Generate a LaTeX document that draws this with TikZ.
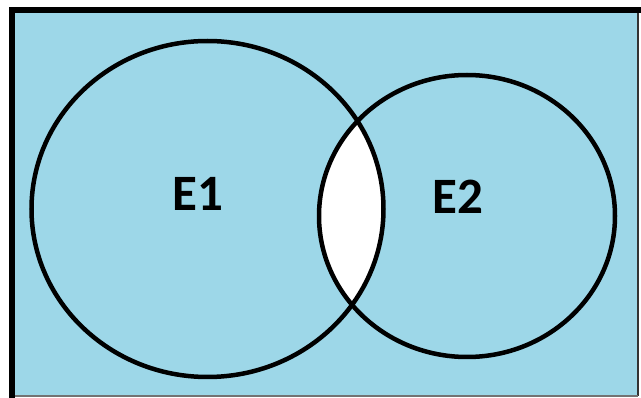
\documentclass[tikz,border=0pt]{standalone}
\usepackage{fontspec}
\setmainfont{Carlito}
\definecolor{venn}{RGB}{157,215,232}
\begin{document}
\begin{tikzpicture}[x=1pt,y=-1pt,
  setline/.style={line width=4.5pt, draw=black},
  lbl/.style={font=\fontsize{51}{51}\selectfont\bfseries, inner sep=0pt}]
\useasboundingbox (0,0) rectangle (641,398);
\fill[white] (0,0) rectangle (641,398);
% universe
\fill[venn] (12,10) rectangle (638,396);
\draw[line width=2pt, draw=black!80] (638,10) -- (638,396);
\draw[line width=1.5pt, draw=black!55] (12,396) -- (638,396);
\draw[line width=6pt, line cap=rect] (12,396) -- (12,10) -- (638,10);
% intersection
\begin{scope}
  \clip (207.5,209) ellipse [x radius=176, y radius=168];
  \fill[white] (467,216) ellipse [x radius=148, y radius=141];
\end{scope}
% sets
\draw[setline] (207.5,209) ellipse [x radius=176, y radius=168];
\draw[setline] (467,216) ellipse [x radius=148, y radius=141];
\node[lbl] (e1) at (197.5,194) {E1};
\node[lbl] (e2) at (457.5,197) {E2};
\end{tikzpicture}
\end{document}
